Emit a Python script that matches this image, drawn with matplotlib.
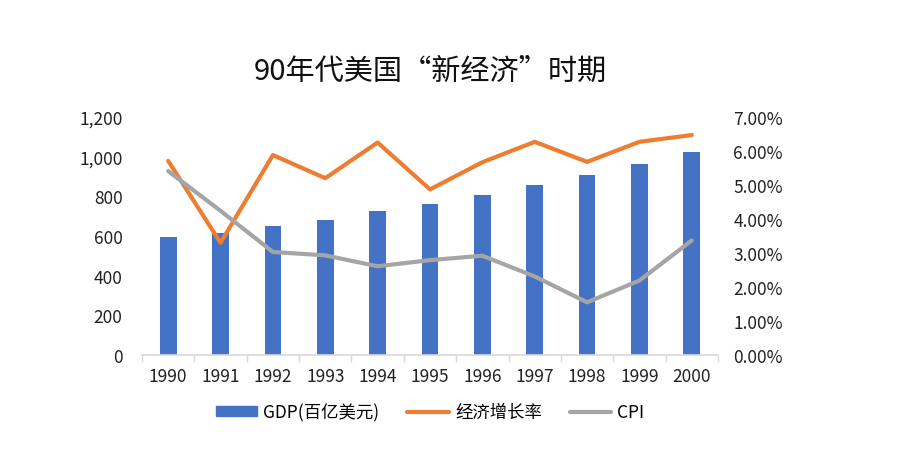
import matplotlib
matplotlib.use("Agg")
import matplotlib.pyplot as plt
from matplotlib.ticker import FuncFormatter, FixedLocator
from matplotlib.lines import Line2D
from matplotlib.patches import Patch

plt.rcParams['font.family'] = ['Noto Sans CJK SC', 'DejaVu Sans']

years = ['1990', '1991', '1992', '1993', '1994', '1995', '1996', '1997', '1998', '1999', '2000']
gdp = [594, 613, 648, 683, 724, 759, 805, 855, 906, 962, 1023]
growth = [5.71, 3.30, 5.88, 5.20, 6.25, 4.87, 5.67, 6.27, 5.68, 6.27, 6.47]
cpi = [5.41, 4.24, 3.03, 2.93, 2.61, 2.79, 2.92, 2.31, 1.55, 2.19, 3.37]

title = '90年代美国“新经济”时期'
labels = ['GDP(百亿美元)', '经济增长率', 'CPI']
c_blue, c_orange, c_grey = '#4472C4', '#ED7D31', '#A5A5A5'

fig = plt.figure(figsize=(8.98, 4.52), dpi=100)
ax = fig.add_axes([142/898, 1-356/452, (718-142)/898, (356-118)/452])
x = list(range(len(years)))
ax.bar(x, gdp, width=0.32, color=c_blue, zorder=2)
ax.set_xlim(-0.5, len(years)-0.5)
ax.set_ylim(0, 1200)
ax.set_yticks(range(0, 1201, 200))
ax.yaxis.set_major_formatter(FuncFormatter(lambda v, p: f'{v:,.0f}'))
ax.set_xticks(x)
ax.set_xticklabels(years)
ax.xaxis.set_minor_locator(FixedLocator([i - 0.5 for i in range(len(years)+1)]))
ax.tick_params(axis='x', which='major', length=0, pad=9, labelsize=12.5, colors='#222222')
ax.tick_params(axis='x', which='minor', length=5, color='#d9d9d9', width=1)
ax.tick_params(axis='y', length=0, pad=14, labelsize=12.5, colors='#222222')
for s in ['top', 'right', 'left']:
    ax.spines[s].set_visible(False)
ax.spines['bottom'].set_color('#d9d9d9')
ax.spines['bottom'].set_linewidth(1.2)

ax2 = ax.twinx()
ax2.plot(x, growth, color=c_orange, lw=3, solid_capstyle='round', solid_joinstyle='round', zorder=3)
ax2.plot(x, cpi, color=c_grey, lw=3, solid_capstyle='round', solid_joinstyle='round', zorder=3)
ax2.set_ylim(0, 7)
ax2.set_yticks(range(0, 8))
ax2.yaxis.set_major_formatter(FuncFormatter(lambda v, p: f'{v:.2f}%'))
ax2.tick_params(axis='y', length=0, pad=11, labelsize=12.5, colors='#222222')
for s in ['top', 'right', 'left', 'bottom']:
    ax2.spines[s].set_visible(False)

fig.text(430/898, 1-72/452, title, ha='center', va='center', fontsize=21, color='#111111')

handles = [Patch(color=c_blue),
           Line2D([], [], color=c_orange, lw=3, solid_capstyle='round'),
           Line2D([], [], color=c_grey, lw=3, solid_capstyle='round')]
fig.legend(handles, labels, loc='center', bbox_to_anchor=(430/898, 1-413/452), ncol=3,
           frameon=False, fontsize=12.5, handlelength=2.4, handleheight=0.5,
           handletextpad=0.35, columnspacing=1.6)

fig.savefig('out.png', dpi=100)
